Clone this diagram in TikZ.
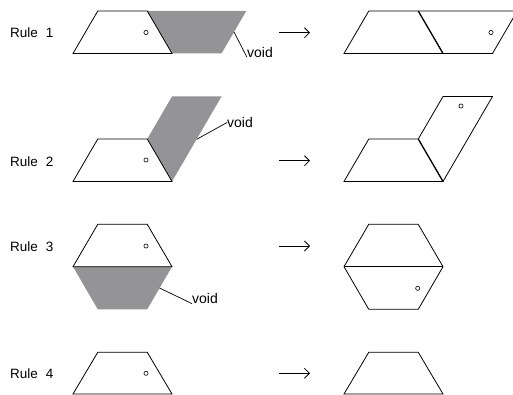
\documentclass[tikz,border=0pt]{standalone}
\usepackage{fontspec}
\setmainfont{Liberation Sans}
\usetikzlibrary{arrows.meta}
\definecolor{voidgray}{RGB}{148,148,150}
\begin{document}
\begin{tikzpicture}[x=1pt,y=-1pt,
  piece/.style={draw=black,line width=0.8pt,line join=miter},
  voidpiece/.style={fill=voidgray,draw=none},
  joint/.style={draw=black,line width=1.2pt},
  dot/.style={draw=black,line width=0.6pt,fill=white},
  lbl/.style={font=\fontsize{13.5}{15}\selectfont,inner sep=0pt,anchor=west},
  voidlbl/.style={font=\fontsize{14}{16}\selectfont,inner sep=0pt,anchor=west},
  leader/.style={draw=black,line width=0.7pt},
  arr/.style={draw=black,line width=0.8pt,-{Straight Barb[length=5pt,width=10pt,line width=0.8pt]}}]
\useasboundingbox (0,0) rectangle (513,395);
\clip (0,0) rectangle (513,395);

% ---------- Rule 1 ----------
\node[lbl] (r1) at (10,33) {Rule\hspace{8pt}1};
\fill[voidpiece] (147.25,11) -- (246.25,11) -- (221.5,53.5) -- (172,53.5) -- cycle;
\draw[piece] (73,53.5) -- (172,53.5) -- (147.25,11) -- (97.75,11) -- cycle;
\draw[dot] (146,32.5) circle (2.1);
\coordinate (v1a) at (234,32);
\node[voidlbl] (v1) at (247,52) {void};
\draw[leader] (v1a) -- (v1.south west);
\coordinate (a1s) at (279,32.7);
\coordinate (a1e) at (310,32.7);
\draw[arr] (a1s) -- (a1e);
\draw[piece] (344,53.5) -- (443,53.5) -- (418.25,11) -- (368.75,11) -- cycle;
\draw[piece] (418.25,11) -- (517.25,11) -- (492.5,53.5) -- (443,53.5);
\draw[joint] (418.25,11) -- (443,53.5);
\draw[dot] (491,32.5) circle (2.1);

% ---------- Rule 2 ----------
\node[lbl] (r2) at (10,161.5) {Rule\hspace{8pt}2};
\fill[voidpiece] (147.25,139) -- (172,96.5) -- (221.5,96.5) -- (172,181.5) -- cycle;
\draw[piece] (73,181.5) -- (172,181.5) -- (147.25,139) -- (97.75,139) -- cycle;
\draw[dot] (146,160) circle (2.1);
\coordinate (v2a) at (196.7,139.3);
\node[voidlbl] (v2) at (227,122.5) {void};
\draw[leader] (v2a) -- (v2.west);
\coordinate (a2s) at (279,160.7);
\coordinate (a2e) at (310,160.7);
\draw[arr] (a2s) -- (a2e);
\draw[piece] (344,181.5) -- (443,181.5) -- (418.25,139) -- (368.75,139) -- cycle;
\draw[piece] (418.25,139) -- (443,96.5) -- (492.5,96.5) -- (443,181.5);
\draw[joint] (418.25,139) -- (443,181.5);
\draw[dot] (461,106) circle (2.1);

% ---------- Rule 3 ----------
\node[lbl] (r3) at (10,246.5) {Rule\hspace{8pt}3};
\fill[voidpiece] (73,266.7) -- (172,266.7) -- (147.25,309.3) -- (97.75,309.3) -- cycle;
\draw[piece] (73,266.7) -- (172,266.7) -- (147.25,224.3) -- (97.75,224.3) -- cycle;
\draw[dot] (146,246) circle (2.1);
\coordinate (v3a) at (159.6,288);
\node[voidlbl] (v3) at (192,298.3) {void};
\draw[leader] (v3a) -- (v3.south west);
\coordinate (a3s) at (279,246);
\coordinate (a3e) at (310,246);
\draw[arr] (a3s) -- (a3e);
\draw[piece] (344,266.7) -- (368.75,224.3) -- (418.25,224.3) -- (443,266.7) -- (418.25,309.3) -- (368.75,309.3) -- cycle;
\draw[joint] (344,266.7) -- (443,266.7);
\draw[dot] (417.7,288.3) circle (2.1);

% ---------- Rule 4 ----------
\node[lbl] (r4) at (10,374) {Rule\hspace{8pt}4};
\draw[piece] (73,394) -- (172,394) -- (147.25,352.3) -- (97.75,352.3) -- cycle;
\draw[dot] (146,373.3) circle (2.1);
\coordinate (a4s) at (279,373.3);
\coordinate (a4e) at (310,373.3);
\draw[arr] (a4s) -- (a4e);
\draw[piece] (344,394) -- (443,394) -- (418.25,352.3) -- (368.75,352.3) -- cycle;
\end{tikzpicture}
\end{document}
